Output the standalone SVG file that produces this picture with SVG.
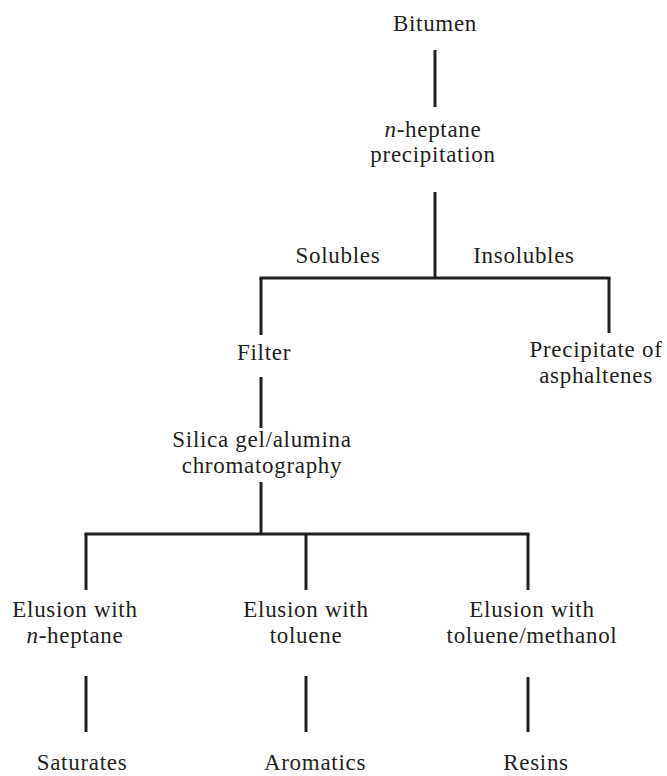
<svg xmlns="http://www.w3.org/2000/svg" width="667" height="776" viewBox="0 0 667 776">
<style>
text{font-family:"Liberation Serif","Times New Roman",serif;font-size:23px;letter-spacing:0.7px;fill:#231f20;text-anchor:middle}
.c line{stroke:#231f20;stroke-width:3;fill:none}
</style>
<rect width="667" height="776" fill="#fff"/>
<g class="c" id="connectors">
<line x1="435" y1="50" x2="435" y2="107"/>
<line x1="435" y1="192" x2="435" y2="278"/>
<line x1="259.5" y1="278" x2="610.5" y2="278"/>
<line x1="261" y1="278" x2="261" y2="335"/>
<line x1="609" y1="278" x2="609" y2="333"/>
<line x1="261" y1="377" x2="261" y2="428"/>
<line x1="261" y1="482" x2="261" y2="534"/>
<line x1="84.5" y1="534" x2="529.5" y2="534"/>
<line x1="86" y1="534" x2="86" y2="590"/>
<line x1="306" y1="534" x2="306" y2="590"/>
<line x1="528" y1="534" x2="528" y2="590"/>
<line x1="86" y1="676" x2="86" y2="732"/>
<line x1="306" y1="676" x2="306" y2="732"/>
<line x1="528" y1="677" x2="528" y2="732"/>
</g>
<g id="bitumen"><text x="435" y="31">Bitumen</text></g>
<g id="precip"><text x="433" y="137"><tspan font-style="italic">n</tspan>-heptane</text><text x="433" y="162">precipitation</text></g>
<g id="solubles"><text x="338" y="263">Solubles</text></g>
<g id="insolubles"><text x="524" y="263">Insolubles</text></g>
<g id="filter"><text x="264" y="360">Filter</text></g>
<g id="asphaltenes"><text x="596" y="357">Precipitate of</text><text x="596" y="383">asphaltenes</text></g>
<g id="chromatography"><text x="262" y="447">Silica gel/alumina</text><text x="262" y="473">chromatography</text></g>
<g id="elusion1"><text x="75" y="617">Elusion with</text><text x="75" y="643"><tspan font-style="italic">n</tspan>-heptane</text></g>
<g id="elusion2"><text x="306" y="617">Elusion with</text><text x="306" y="643">toluene</text></g>
<g id="elusion3"><text x="532" y="617">Elusion with</text><text x="532" y="643">toluene/methanol</text></g>
<g id="saturates"><text x="82" y="770">Saturates</text></g>
<g id="aromatics"><text x="315" y="770">Aromatics</text></g>
<g id="resins"><text x="536" y="770">Resins</text></g>
</svg>
